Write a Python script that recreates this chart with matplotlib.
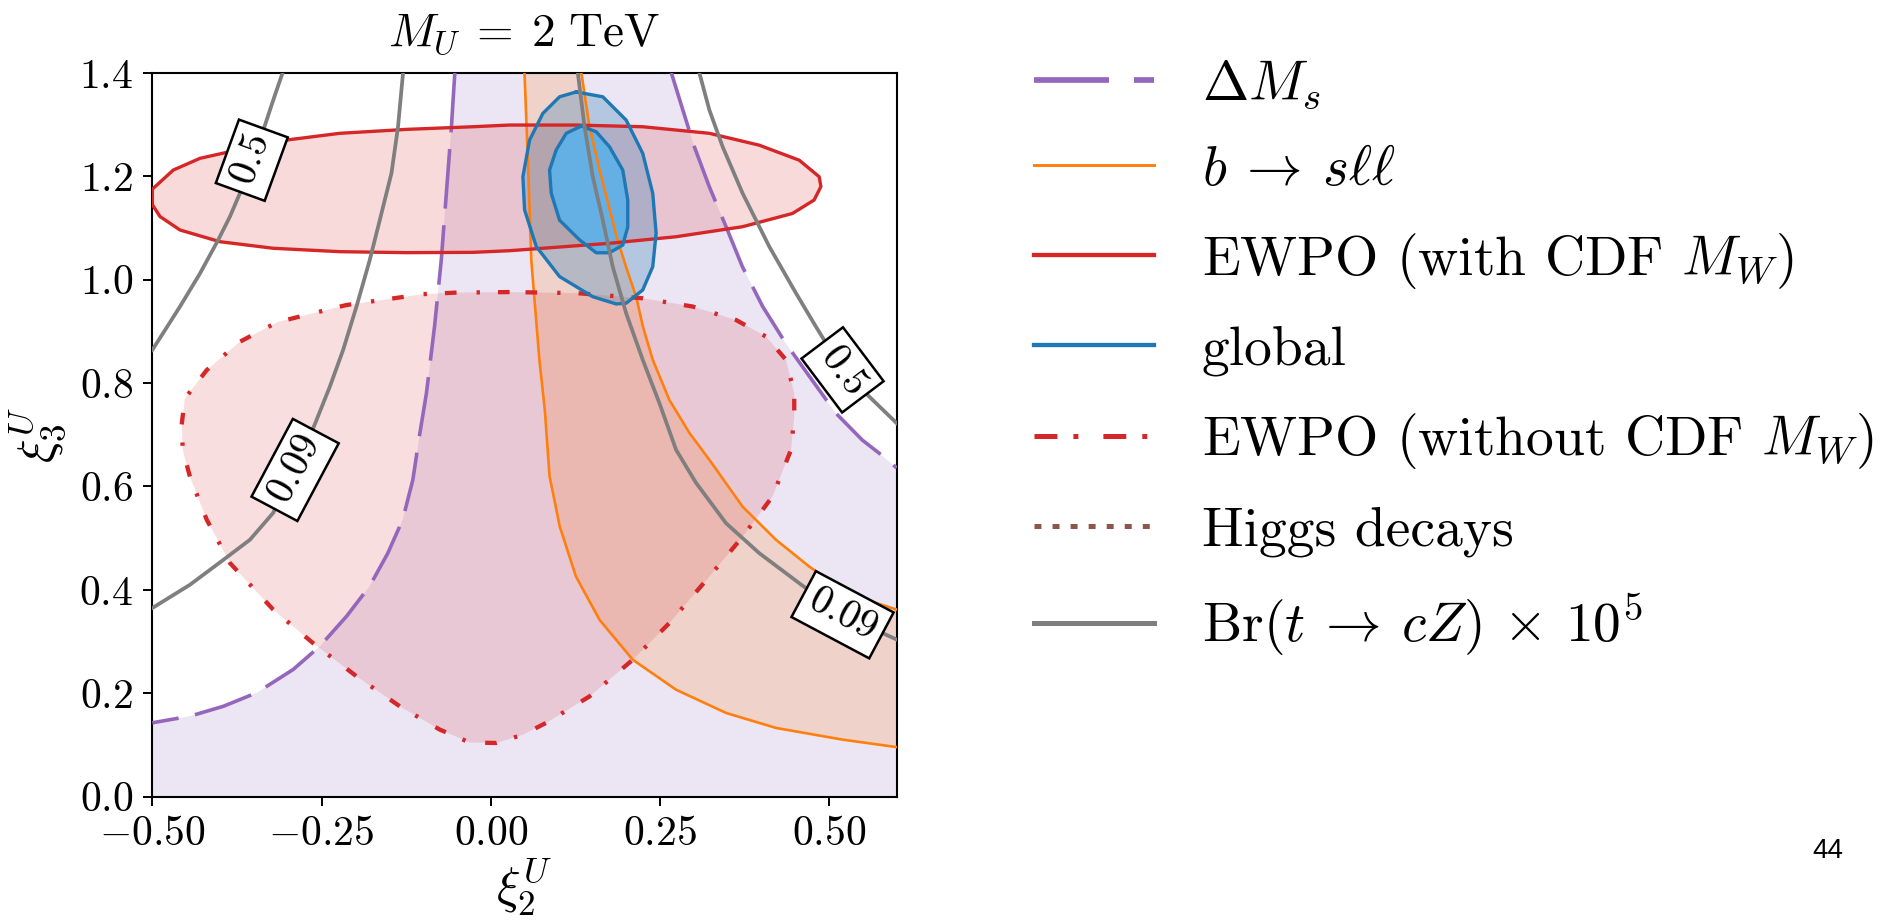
import matplotlib
matplotlib.use("Agg")
import matplotlib.pyplot as plt
from matplotlib.lines import Line2D

# === Fonts: Computer Modern look ===
plt.rcParams['font.family'] = 'serif'
plt.rcParams['font.serif'] = ['cmr10']
plt.rcParams['mathtext.fontset'] = 'cm'
plt.rcParams['axes.unicode_minus'] = False
plt.rcParams['axes.formatter.use_mathtext'] = True
plt.rcParams['lines.scale_dashes'] = False

# === Curves (xi_2, xi_3) ===
dms_left_x = [-0.053, -0.058, -0.0655, -0.073, -0.083, -0.095, -0.105, -0.115, -0.130, -0.152,
              -0.179, -0.213, -0.2525, -0.292, -0.346, -0.395, -0.444, -0.5]
dms_left_y = [1.40, 1.296, 1.167, 1.038, 0.909, 0.780, 0.700, 0.613, 0.536, 0.471,
              0.407, 0.349, 0.291, 0.246, 0.201, 0.175, 0.156, 0.143]
dms_right_x = [0.267, 0.284, 0.301, 0.323, 0.348, 0.372, 0.402, 0.436, 0.471, 0.510, 0.549, 0.574, 0.6]
dms_right_y = [1.40, 1.328, 1.257, 1.180, 1.102, 1.025, 0.948, 0.877, 0.813, 0.742, 0.690, 0.6645, 0.636]

bsll_left_x = [0.050, 0.055, 0.060, 0.072, 0.080, 0.087, 0.102, 0.126, 0.161, 0.210,
               0.274, 0.348, 0.422, 0.520, 0.600]
bsll_left_y = [1.40, 1.231, 1.038, 0.845, 0.748, 0.620, 0.523, 0.426, 0.342, 0.265,
               0.207, 0.162, 0.133, 0.1105, 0.096]
bsll_right_x = [0.134, 0.146, 0.161, 0.176, 0.186, 0.200, 0.215, 0.225, 0.2395, 0.264,
                0.294, 0.323, 0.3723, 0.4216, 0.471, 0.520, 0.569, 0.600]
bsll_right_y = [1.40, 1.296, 1.212, 1.135, 1.083, 1.025, 0.967, 0.909, 0.845, 0.7675,
                0.703, 0.652, 0.561, 0.497, 0.445, 0.400, 0.375, 0.362]

ewpo_cdf_x = [-0.5, -0.5, -0.4886, -0.4591, -0.4001, -0.3214, -0.223, -0.1245, -0.0262, 0.028,
              0.0771, 0.1756, 0.274, 0.3723, 0.446, 0.478, 0.488, 0.4855, 0.456, 0.397,
              0.3232, 0.2247, 0.1264, 0.028, -0.0262, -0.1245, -0.223, -0.3016, -0.36,
              -0.4296, -0.469, -0.5]
ewpo_cdf_y = [1.175, 1.145, 1.122, 1.096, 1.0734, 1.0607, 1.0541, 1.0522, 1.0528, 1.056,
              1.0607, 1.0703, 1.083, 1.1024, 1.128, 1.154, 1.180, 1.199, 1.231, 1.260,
              1.283, 1.2957, 1.299, 1.299, 1.2957, 1.2906, 1.283, 1.270, 1.255,
              1.2346, 1.212, 1.175]

ewpo_nocdf_x = [0.028, -0.05, -0.10, -0.213, -0.315, -0.3706, -0.4197, -0.452, -0.4566, -0.455,
                -0.4444, -0.4197, -0.3853, -0.3214, -0.2624, -0.1983, -0.1344, -0.0754, -0.0311,
                0.0083, 0.0476, 0.0821, 0.146, 0.210, 0.2641, 0.3232, 0.3723, 0.4166, 0.4438,
                0.4486, 0.4486, 0.4364, 0.4069, 0.3626, 0.2985, 0.2247, 0.1264, 0.028]
ewpo_nocdf_y = [0.976, 0.975, 0.972, 0.951, 0.918, 0.880, 0.825, 0.770, 0.720, 0.670,
                0.619, 0.536, 0.452, 0.362, 0.297, 0.233, 0.175, 0.130, 0.105,
                0.104, 0.120, 0.143, 0.194, 0.265, 0.336, 0.426, 0.503, 0.581, 0.671,
                0.735, 0.7805, 0.845, 0.890, 0.922, 0.948, 0.964, 0.974, 0.976]

global_outer_x = [0.1264, 0.1657, 0.2002, 0.2247, 0.2395, 0.2445, 0.2395, 0.2247, 0.2002, 0.1855,
                  0.1509, 0.1018, 0.0674, 0.0501, 0.0476, 0.0575, 0.0771, 0.1018, 0.1264]
global_outer_y = [1.363, 1.3536, 1.3086, 1.2442, 1.1669, 1.0897, 1.0251, 0.980, 0.9544, 0.953,
                  0.967, 1.006, 1.064, 1.135, 1.199, 1.270, 1.3215, 1.3536, 1.363]
global_inner_x = [0.1338, 0.156, 0.1756, 0.1952, 0.2026, 0.2026, 0.1952, 0.1756, 0.156, 0.1313,
                  0.1018, 0.0895, 0.087, 0.0969, 0.1117, 0.1338]
global_inner_y = [1.297, 1.286, 1.257, 1.212, 1.154, 1.102, 1.067, 1.052, 1.052, 1.077,
                  1.115, 1.167, 1.212, 1.251, 1.283, 1.297]

# Br(t -> cZ) x 10^5 contours
tcz_05_left_x = [-0.3075, -0.3214, -0.336, -0.353, -0.3706, -0.3853, -0.4026, -0.4296, -0.4591, -0.5]
tcz_05_left_y = [1.40, 1.347, 1.289, 1.230, 1.167, 1.122, 1.077, 1.012, 0.948, 0.864]
tcz_009_left_x = [-0.1295, -0.1369, -0.1466, -0.1639, -0.1787, -0.1983, -0.2181, -0.2377, -0.260,
                  -0.289, -0.3214, -0.3558, -0.3952, -0.4444, -0.5]
tcz_009_left_y = [1.40, 1.296, 1.206, 1.115, 1.038, 0.948, 0.864, 0.793, 0.720,
                  0.632, 0.549, 0.497, 0.458, 0.410, 0.365]
tcz_05_right_x = [0.3084, 0.3232, 0.3428, 0.3723, 0.4117, 0.4511, 0.4807, 0.520, 0.5593, 0.6]
tcz_05_right_y = [1.40, 1.328, 1.257, 1.167, 1.064, 0.974, 0.909, 0.8255, 0.774, 0.7225]
tcz_009_right_x = [0.1288, 0.1387, 0.1509, 0.1657, 0.1804, 0.2002, 0.2247, 0.2494, 0.274, 0.3035,
                   0.3478, 0.397, 0.456, 0.520, 0.6]
tcz_009_right_y = [1.40, 1.296, 1.199, 1.115, 1.025, 0.935, 0.845, 0.761, 0.671, 0.607,
                   0.529, 0.471, 0.413, 0.352, 0.304]

# contour labels: text, x, y, angle
clabel_text = ['0.5', '0.09', '0.5', '0.09']
clabel_x = [-0.353, -0.289, 0.520, 0.520]
clabel_y = [1.231, 0.632, 0.8255, 0.352]
clabel_rot = [70, 62, -53, -28]

xticks = [-0.5, -0.25, 0.0, 0.25, 0.5]
xtick_labels = ['$-0.50$', '$-0.25$', '$0.00$', '$0.25$', '$0.50$']
yticks = [0.0, 0.2, 0.4, 0.6, 0.8, 1.0, 1.2, 1.4]
ytick_labels = ['$0.0$', '$0.2$', '$0.4$', '$0.6$', '$0.8$', '$1.0$', '$1.2$', '$1.4$']

legend_labels = [r'$\Delta M_s$', r'$b \:\to\: s\ell\ell$', 'EWPO (with CDF $M_W$)', 'global',
                 'EWPO (without CDF $M_W$)', 'Higgs decays', r'Br($t \:\to\: cZ$) $\times$ $10^5$']

purple, orange, red, blue, brown, gray = '#9467bd', '#ff7f0e', '#d62728', '#1f77b4', '#8c564b', '#7f7f7f'

# === Figure ===
fig = plt.figure(figsize=(18.83, 9.24), dpi=100)
ax = fig.add_axes([0.0809, 0.1377, 0.3953, 0.7835])

# Delta M_s allowed region (between the two branches)
dms_poly_x = dms_left_x + [-0.5, 0.6] + dms_right_x[::-1]
dms_poly_y = dms_left_y + [0.0, 0.0] + dms_right_y[::-1]
ax.fill(dms_poly_x, dms_poly_y, color=purple, alpha=0.17, lw=0, zorder=1)

# b -> s ll band
ax.fill(bsll_left_x + bsll_right_x[::-1], bsll_left_y + bsll_right_y[::-1],
        color=orange, alpha=0.18, lw=0, zorder=2)

# EWPO regions
ax.fill(ewpo_cdf_x, ewpo_cdf_y, color=red, alpha=0.17, lw=0, zorder=3)
ax.fill(ewpo_nocdf_x, ewpo_nocdf_y, color=red, alpha=0.15, lw=0, zorder=3)

# global fit
ax.fill(global_outer_x, global_outer_y, color=blue, alpha=0.27, lw=0, zorder=4)
ax.fill(global_inner_x, global_inner_y, color='#64b0e4', lw=0, zorder=4)

# lines
kw = dict(solid_joinstyle='round', dash_joinstyle='round')
ax.plot(dms_left_x, dms_left_y, color=purple, lw=2.6, ls=(0, (43, 12)), zorder=5, **kw)
ax.plot(dms_right_x, dms_right_y, color=purple, lw=2.6, ls=(0, (43, 12)), zorder=5, **kw)
ax.plot(bsll_left_x, bsll_left_y, color=orange, lw=1.9, zorder=5, **kw)
ax.plot(bsll_right_x, bsll_right_y, color=orange, lw=1.9, zorder=5, **kw)
ax.plot(ewpo_cdf_x, ewpo_cdf_y, color=red, lw=2.4, zorder=6, **kw)
ax.plot(ewpo_nocdf_x, ewpo_nocdf_y, color=red, lw=3.1, ls=(0, (8.4, 13, 2.4, 14.4)), zorder=6, **kw)
for xs, ys in [(tcz_05_left_x, tcz_05_left_y), (tcz_009_left_x, tcz_009_left_y),
               (tcz_05_right_x, tcz_05_right_y), (tcz_009_right_x, tcz_009_right_y)]:
    ax.plot(xs, ys, color=gray, lw=2.7, zorder=7, **kw)
ax.plot(global_outer_x, global_outer_y, color=blue, lw=2.4, zorder=6, **kw)
ax.plot(global_inner_x, global_inner_y, color=blue, lw=2.4, zorder=6, **kw)

for t, x, y, r in zip(clabel_text, clabel_x, clabel_y, clabel_rot):
    ax.text(x, y, '$' + t + '$', rotation=r, rotation_mode='anchor', ha='center', va='center',
            fontsize=29, zorder=10,
            bbox=dict(boxstyle='square,pad=0.2', fc='white', ec='black', lw=1.8))

ax.set_xlim(-0.5, 0.6)
ax.set_ylim(0.0, 1.4)
ax.set_xticks(xticks)
ax.set_xticklabels(xtick_labels)
ax.set_yticks(yticks)
ax.set_yticklabels(ytick_labels)
ax.tick_params(labelsize=30, length=6.8, width=1.4, pad=7)
for s in ax.spines.values():
    s.set_linewidth(1.5)

ax.set_title(r'$M_U \:=\: 2\ \mathrm{TeV}$', fontsize=34, pad=19)
ax.set_xlabel(r'$\xi_2^U$', fontsize=36, labelpad=2)
ax.set_ylabel(r'$\xi_3^U$', fontsize=36, labelpad=8)

# === Legend (proxy handles) ===
handles = [
    Line2D([], [], color=purple, lw=4.1, ls=(0, (54, 18))),
    Line2D([], [], color=orange, lw=2.1),
    Line2D([], [], color=red, lw=3.1),
    Line2D([], [], color=blue, lw=3.1),
    Line2D([], [], color=red, lw=3.6, ls=(0, (16.5, 11.5, 3.6, 18))),
    Line2D([], [], color=brown, lw=3.6, ls=(0, (5, 8))),
    Line2D([], [], color=gray, lw=3.6),
]
fig.legend(handles, legend_labels, loc='upper left', bbox_to_anchor=(0.549, 0.937),
           frameon=False, fontsize=40, handlelength=2.17, handletextpad=0.85,
           labelspacing=0.63, borderpad=0, borderaxespad=0)

fig.text(0.9708, 0.079, '44', fontsize=20, family='Liberation Sans', ha='center', va='center')

fig.savefig('out.png', dpi=100)
